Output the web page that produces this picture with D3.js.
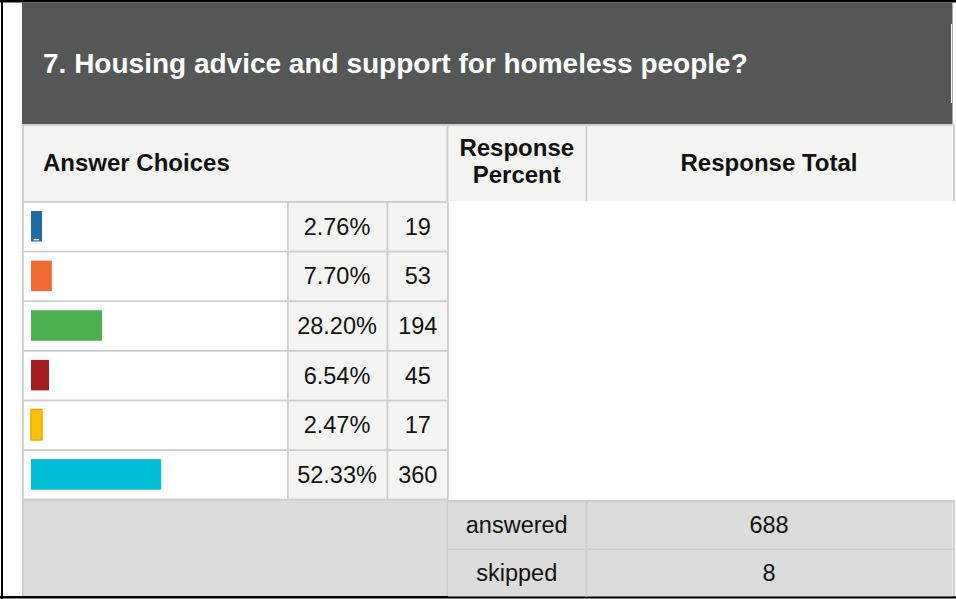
<!DOCTYPE html>
<html>
<head>
<meta charset="utf-8">
<script src="https://cdn.jsdelivr.net/npm/d3@7/dist/d3.min.js"></script>
<style>
  html, body { margin: 0; padding: 0; background: #ffffff; }
  svg { display: block; }
  text { font-family: "Liberation Sans", Arial, Helvetica, sans-serif; }
</style>
</head>
<body>
<div id="chart"></div>
<script>
// ---- data ----
const title = "7. Housing advice and support for homeless people?";
const headerLabels = ["Answer Choices", "Response Percent", "Response Total"];
const percents = [2.76, 7.70, 28.20, 6.54, 2.47, 52.33];
const counts = [19, 53, 194, 45, 17, 360];
const barColors = ["#1d6ca6", "#f26b35", "#4caf50", "#a51c20", "#ffc107", "#00bcd4"];
const barStrokes = [null, null, null, null, "#f7a600", null];
const summaryLabels = ["answered", "skipped"];
const summaryValues = [688, 8];

// ---- layout ----
const W = 956, H = 599;
const grid = "#cdcdcd";
const lightBg = "#f4f4f2";
const footBg = "#dcdcdc";

const svg = d3.select("#chart").append("svg").attr("width", W).attr("height", H);

// outer frame lines
svg.append("rect").attr("x", 1).attr("y", 0).attr("width", 2).attr("height", H).attr("fill", "#000");
svg.append("rect").attr("x", 0).attr("y", 0).attr("width", W).attr("height", 2.5).attr("fill", "#000");
svg.append("rect").attr("x", 0).attr("y", 596).attr("width", W).attr("height", 2.5).attr("fill", "#000");

// column edges
const colX = { left: 22, barEnd: 287.5, pctEnd: 386.5, cntEnd: 448, rpEnd: 585.5, right: 952.5 };

// title band
svg.append("rect").attr("x", colX.left).attr("y", 2.5).attr("width", colX.right - colX.left).attr("height", 122)
  .attr("fill", "#555756");
svg.append("rect").attr("x", 951).attr("y", 24).attr("width", 1).attr("height", 79).attr("fill", "#ffffff");
svg.append("text").attr("x", 43).attr("y", 72.5).attr("fill", "#ffffff")
  .attr("font-size", 28).attr("font-weight", "bold").text(title);

// header row
const hTop = 124.5, hBot = 201;
svg.append("rect").attr("x", colX.left).attr("y", hTop).attr("width", colX.right - colX.left).attr("height", hBot - hTop)
  .attr("fill", lightBg);
svg.append("rect").attr("x", colX.left).attr("y", hTop).attr("width", colX.right - colX.left).attr("height", 1.5).attr("fill", grid);
[colX.left, colX.cntEnd - 1.5, colX.rpEnd].forEach(x =>
  svg.append("rect").attr("x", x).attr("y", hTop).attr("width", 1.8).attr("height", hBot - hTop).attr("fill", grid));
svg.append("rect").attr("x", 953).attr("y", hTop).attr("width", 2).attr("height", hBot - hTop).attr("fill", grid);

svg.append("text").attr("x", 43).attr("y", 170.5).attr("font-size", 24).attr("font-weight", "bold")
  .attr("fill", "#111").text(headerLabels[0]);
const rp = svg.append("text").attr("x", (colX.cntEnd + colX.rpEnd) / 2).attr("text-anchor", "middle")
  .attr("font-size", 24).attr("font-weight", "bold").attr("fill", "#111");
headerLabels[1].split(" ").forEach((w, i) => rp.append("tspan").attr("x", (colX.cntEnd + colX.rpEnd) / 2).attr("y", 156 + i * 27).text(w));
svg.append("text").attr("x", (colX.rpEnd + colX.right) / 2).attr("y", 170.5).attr("text-anchor", "middle")
  .attr("font-size", 24).attr("font-weight", "bold").attr("fill", "#111").text(headerLabels[2]);

// rows
const idx = d3.range(percents.length);
const y = d3.scaleBand().domain(idx).range([201, 498.8]);
const x = d3.scaleLinear().domain([0, 100]).range([0, 245]);
const barX0 = 31;
const barW = p => Math.max(11, x(p) + 2);
const fmt = d3.format(".2f");

const rows = svg.append("g").selectAll("g").data(idx).join("g")
  .attr("transform", i => `translate(0,${y(i)})`);

rows.append("rect").attr("x", colX.left).attr("y", 0).attr("width", colX.barEnd - colX.left).attr("height", y.bandwidth()).attr("fill", "#fff");
rows.append("rect").attr("x", colX.barEnd).attr("y", 0).attr("width", colX.cntEnd - colX.barEnd).attr("height", y.bandwidth()).attr("fill", lightBg);
// row borders
rows.append("rect").attr("x", colX.left).attr("y", 0).attr("width", colX.cntEnd - colX.left).attr("height", 1.8).attr("fill", grid);
[colX.left, colX.barEnd - 0.5, colX.pctEnd, colX.cntEnd - 1].forEach(xx =>
  rows.append("rect").attr("x", xx).attr("y", 0).attr("width", 1.8).attr("height", y.bandwidth()).attr("fill", grid));

// bars
rows.append("rect")
  .attr("x", barX0).attr("y", 10).attr("width", i => barW(percents[i])).attr("height", 30.5)
  .attr("fill", i => barColors[i])
  .attr("stroke", i => barStrokes[i] || "none").attr("stroke-width", 1.5);
rows.filter(i => i === 0).append("rect")
  .attr("x", barX0 + 2.5).attr("y", 38).attr("width", i => barW(percents[i]) - 5.5).attr("height", 1.3).attr("fill", "#fff");

rows.append("text").attr("x", (colX.barEnd + colX.pctEnd) / 2).attr("y", 33.8).attr("text-anchor", "middle")
  .attr("font-size", 23.5).attr("fill", "#111").text(i => fmt(percents[i]) + "%");
rows.append("text").attr("x", (colX.pctEnd + colX.cntEnd) / 2 + 0.5).attr("y", 33.8).attr("text-anchor", "middle")
  .attr("font-size", 23.5).attr("fill", "#111").text(i => counts[i]);

// footer
const fTop = 498.8, fBot = 596;
svg.append("rect").attr("x", colX.left).attr("y", fTop).attr("width", colX.cntEnd - colX.left).attr("height", fBot - fTop).attr("fill", footBg);
svg.append("rect").attr("x", colX.left).attr("y", fTop).attr("width", colX.cntEnd - colX.left).attr("height", 1.8).attr("fill", grid);
svg.append("rect").attr("x", colX.left).attr("y", fTop).attr("width", 1.8).attr("height", fBot - fTop).attr("fill", grid);
svg.append("rect").attr("x", colX.cntEnd - 1.5).attr("y", fTop).attr("width", 1.8).attr("height", fBot - fTop).attr("fill", grid);

const sy = d3.scaleBand().domain(d3.range(summaryLabels.length)).range([500, 596.5]);
const srows = svg.append("g").selectAll("g").data(d3.range(summaryLabels.length)).join("g")
  .attr("transform", i => `translate(0,${sy(i)})`);
srows.append("rect").attr("x", colX.cntEnd).attr("y", 0).attr("width", colX.right - colX.cntEnd).attr("height", sy.bandwidth()).attr("fill", footBg);
srows.append("rect").attr("x", colX.cntEnd).attr("y", 0).attr("width", colX.right - colX.cntEnd + 2.5).attr("height", 1.8).attr("fill", grid);
[colX.rpEnd, 953].forEach(xx =>
  srows.append("rect").attr("x", xx).attr("y", 0).attr("width", 1.8).attr("height", sy.bandwidth()).attr("fill", grid));
srows.append("text").attr("x", (colX.cntEnd + colX.rpEnd) / 2).attr("y", 32.5).attr("text-anchor", "middle")
  .attr("font-size", 23.5).attr("fill", "#111").text(i => summaryLabels[i]);
srows.append("text").attr("x", (colX.rpEnd + colX.right) / 2).attr("y", 32.5).attr("text-anchor", "middle")
  .attr("font-size", 23.5).attr("fill", "#111").text(i => summaryValues[i]);
</script>
</body>
</html>
